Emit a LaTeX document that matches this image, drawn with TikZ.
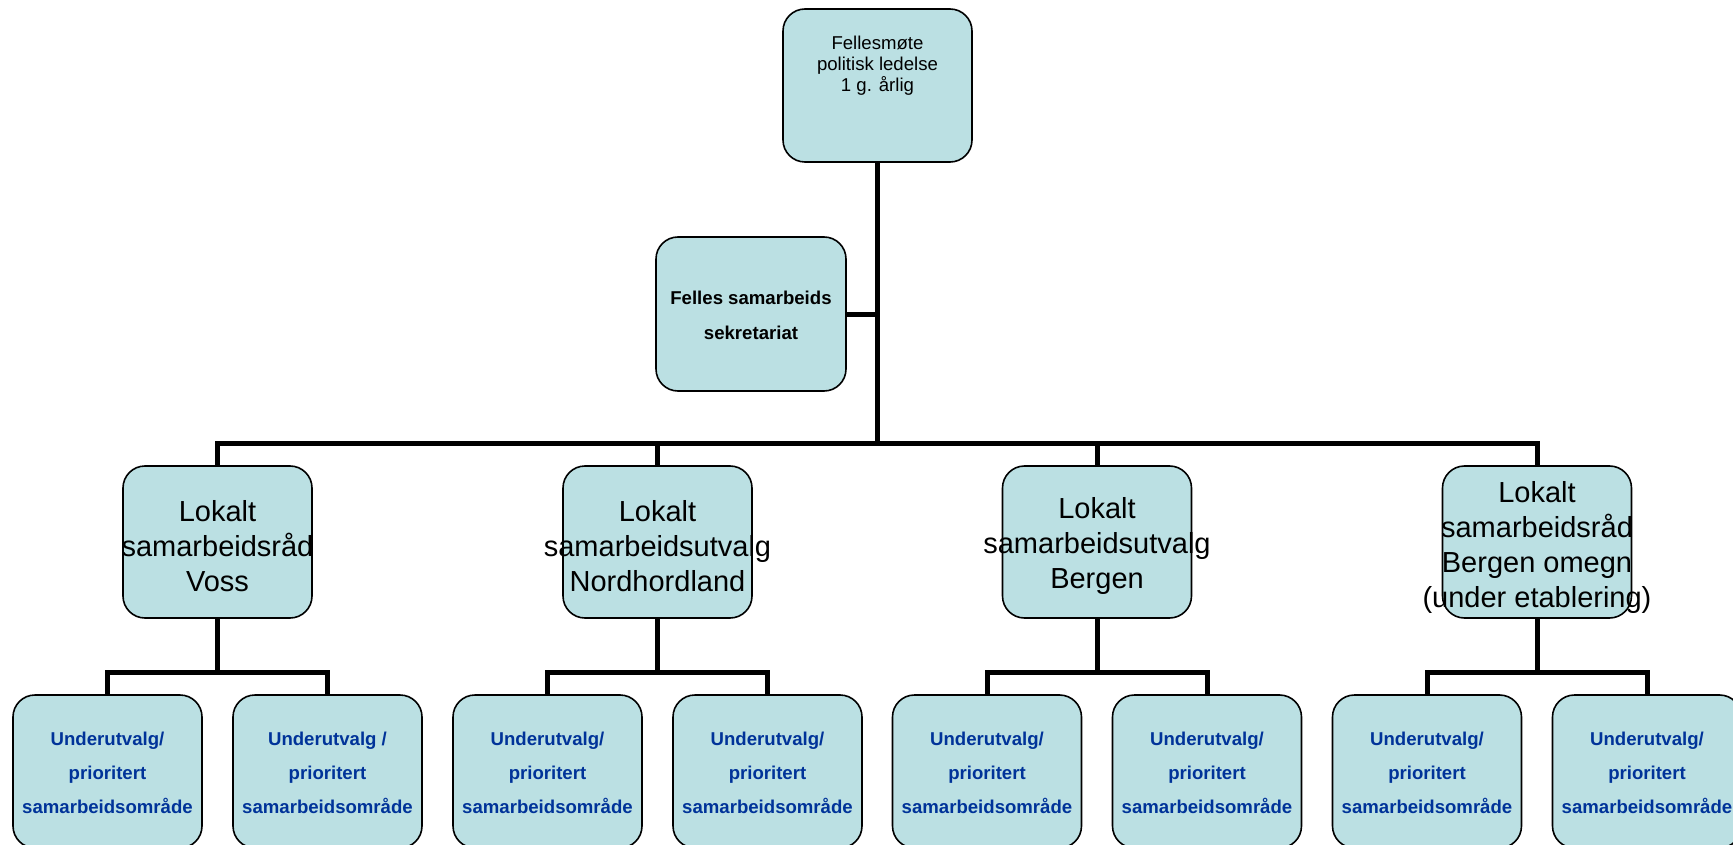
\documentclass[tikz,border=0pt]{standalone}
\usepackage{fontspec}
\setmainfont{Liberation Sans}
\definecolor{boxfill}{HTML}{BBE0E3}
\definecolor{subblue}{HTML}{003399}
\tikzset{
  box/.style={draw=black, line width=1.6pt, fill=boxfill, rounded corners=22pt,
              minimum width=189pt, minimum height=153pt, inner sep=0pt},
  conn/.style={draw=black, line width=5pt},
  toptext/.style={inner sep=0pt, align=center, font=\fontsize{18.6}{21}\selectfont},
  midtext/.style={inner sep=0pt, align=center, font=\fontsize{29}{35}\selectfont},
  sectext/.style={inner sep=0pt, align=center, font=\fontsize{18.6}{35}\selectfont\bfseries},
  subtext/.style={inner sep=0pt, align=center, text=subblue, font=\fontsize{18.6}{34}\selectfont\bfseries}
}
\begin{document}
\begin{tikzpicture}[x=1pt,y=-1pt]
\useasboundingbox (0,0) rectangle (1733,845);
\coordinate (bus) at (877.5,443);
\coordinate (sb1) at (217.5,672);
\coordinate (sb2) at (657.5,672);
\coordinate (sb3) at (1097,672);
\coordinate (sb4) at (1537,672);
% boxes
\node[box] (top) at (877.5,85.5) {};
\node[toptext, anchor=north] (toptxt) at (877.5,36) {Fellesmøte\\politisk ledelse\\1 g. årlig};
\node[box, minimum width=190pt, minimum height=154pt] (sec) at (751,314) {};
\node[sectext] (sectxt) at ([yshift=-1.5pt]sec.center) {Felles samarbeids\\sekretariat};
\foreach \i/\x in {1/217.5,2/657.5,3/1097,4/1537}{
  \node[box, minimum height=152pt] (l\i) at (\x,542) {};
  \node[box] (s\i a) at (\x-110,771.5) {};
  \node[box] (s\i b) at (\x+110,771.5) {};
}
\node[midtext] (l1t) at ([yshift=-4pt]l1.center) {Lokalt\\samarbeidsråd\\Voss};
\node[midtext] (l2t) at ([yshift=-4pt]l2.center) {Lokalt\\samarbeidsutvalg\\Nordhordland};
\node[midtext] (l3t) at ([yshift=-4pt]l3.center) {Lokalt\\samarbeidsutvalg\\Bergen};
\node[midtext] (l4t) at ([yshift=-5.5pt]l4.center) {Lokalt\\samarbeidsråd\\Bergen omegn\\(under etablering)};
\node[subtext] (s1at) at ([yshift=-1.5pt]s1a.center) {Underutvalg/\\prioritert\\samarbeidsområde};
\node[subtext] (s1bt) at ([yshift=-1.5pt]s1b.center) {Underutvalg /\\prioritert\\samarbeidsområde};
\foreach \n in {s2a,s2b,s3a,s3b,s4a,s4b}{
  \node[subtext] (\n t) at ([yshift=-1.5pt]\n.center) {Underutvalg/\\prioritert\\samarbeidsområde};
}
% connectors
\draw[conn] (top.south) -- (bus);
\draw[conn] (sec.east) -- (sec.east -| bus);
\draw[conn] (l1.north) |- (bus);
\draw[conn] (l2.north) |- (bus);
\draw[conn] (l3.north) |- (bus);
\draw[conn] (l4.north) |- (bus);
\foreach \i in {1,2,3,4}{
  \draw[conn] (l\i.south) -- (sb\i);
  \draw[conn] (s\i a.north) |- (sb\i);
  \draw[conn] (s\i b.north) |- (sb\i);
}
\end{tikzpicture}
\end{document}
